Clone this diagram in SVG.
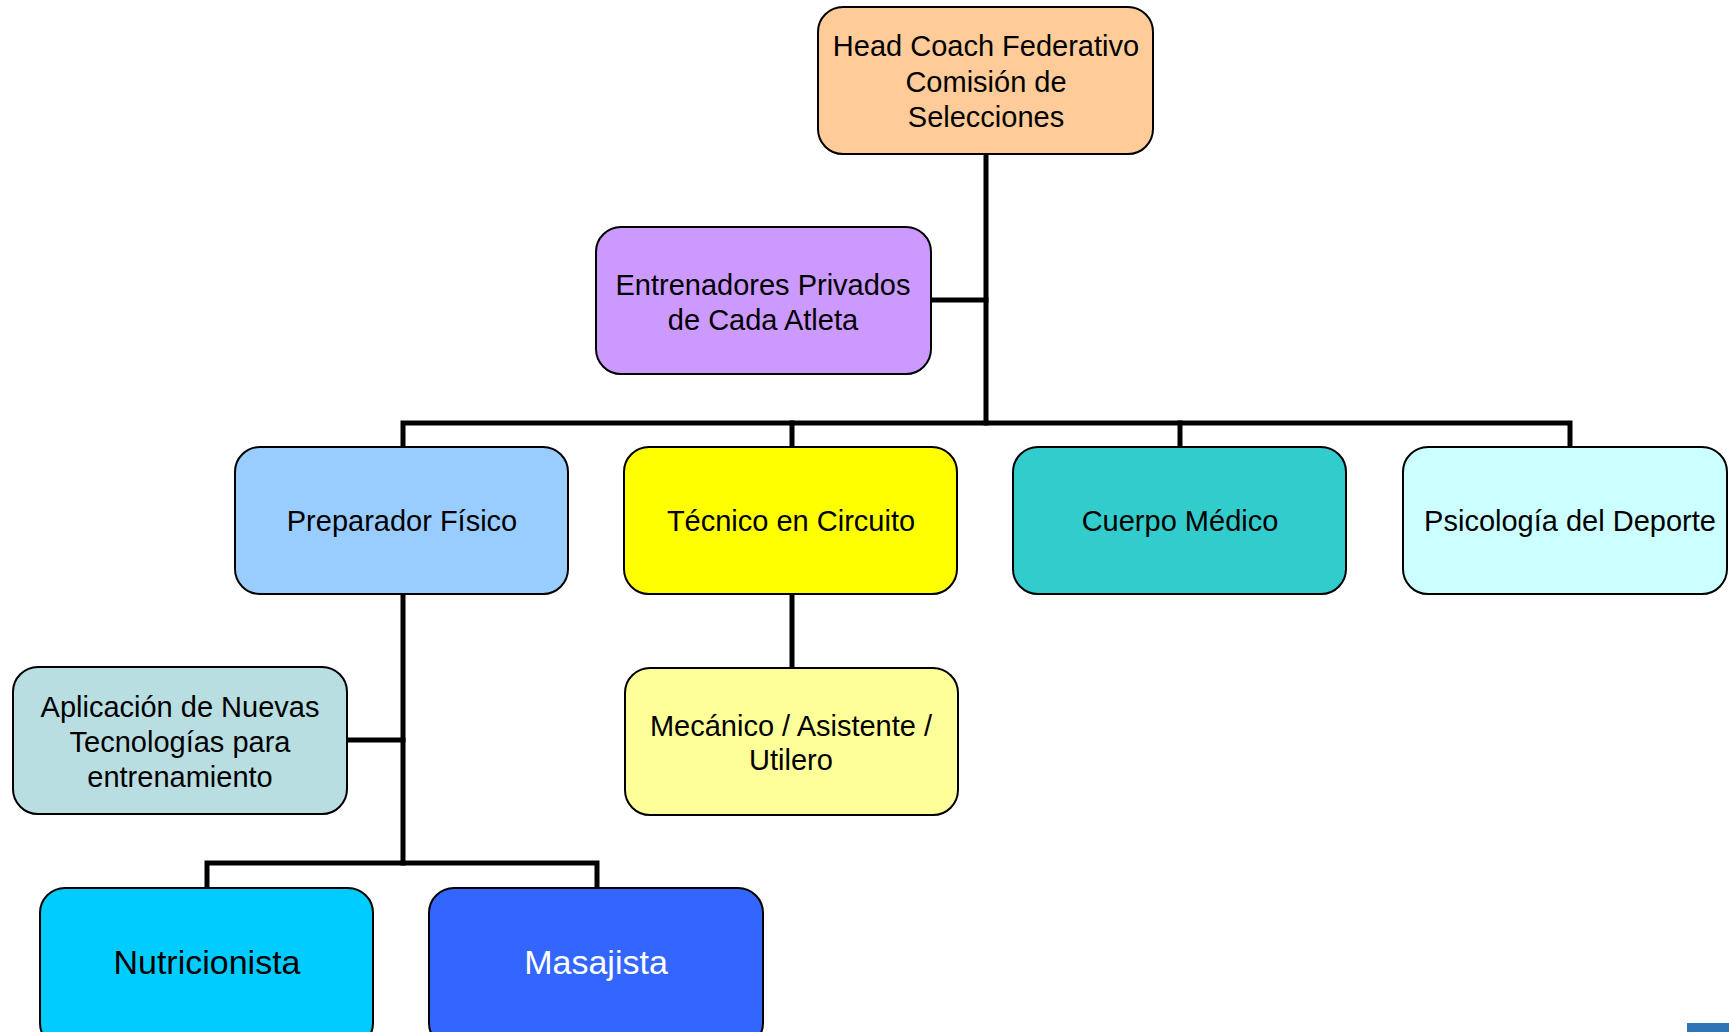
<svg xmlns="http://www.w3.org/2000/svg" width="1729" height="1032" viewBox="0 0 1729 1032">
<style>
.box{stroke:#000;stroke-width:2}
.t{font-family:"Liberation Sans",Arial,sans-serif;font-size:29px;fill:#000;text-anchor:middle}
.big{font-size:34px}
.conn{fill:none;stroke:#000;stroke-width:5;stroke-linecap:square}
</style>
<rect width="1729" height="1032" fill="#fff"/>
<g id="connectors">
<path class="conn" d="M986 154 V423"/>
<path class="conn" d="M931 300 H986"/>
<path class="conn" d="M403 447 V423 H1570 V447"/>
<path class="conn" d="M792 423 V447"/>
<path class="conn" d="M1180 423 V447"/>
<path class="conn" d="M792 594 V667"/>
<path class="conn" d="M403 594 V863"/>
<path class="conn" d="M347 740 H403"/>
<path class="conn" d="M207 888 V863 H597 V888"/>
</g>
<g id="head">
<rect class="box" x="818" y="7" width="335" height="147" rx="25" fill="#FFCC99"/>
<text class="t" x="986" y="56">Head Coach Federativo</text>
<text class="t" x="986" y="92">Comisión de</text>
<text class="t" x="986" y="127">Selecciones</text>
</g>
<g id="entrenadores">
<rect class="box" x="596" y="227" width="335" height="147" rx="25" fill="#CC99FF"/>
<text class="t" x="763" y="295">Entrenadores Privados</text>
<text class="t" x="763" y="330">de Cada Atleta</text>
</g>
<g id="preparador">
<rect class="box" x="235" y="447" width="333" height="147" rx="25" fill="#99CCFF"/>
<text class="t" x="402" y="531">Preparador Físico</text>
</g>
<g id="tecnico">
<rect class="box" x="624" y="447" width="333" height="147" rx="25" fill="#FFFF00"/>
<text class="t" x="791" y="531">Técnico en Circuito</text>
</g>
<g id="cuerpo">
<rect class="box" x="1013" y="447" width="333" height="147" rx="25" fill="#33CCCC"/>
<text class="t" x="1180" y="531">Cuerpo Médico</text>
</g>
<g id="psicologia">
<rect class="box" x="1403" y="447" width="324" height="147" rx="25" fill="#CCFFFF"/>
<text class="t" x="1570" y="531">Psicología del Deporte</text>
</g>
<g id="aplicacion">
<rect class="box" x="13" y="667" width="334" height="147" rx="25" fill="#B9DEE2"/>
<text class="t" x="180" y="717">Aplicación de Nuevas</text>
<text class="t" x="180" y="752">Tecnologías para</text>
<text class="t" x="180" y="787">entrenamiento</text>
</g>
<g id="mecanico">
<rect class="box" x="625" y="668" width="333" height="147" rx="25" fill="#FFFF99"/>
<text class="t" x="791" y="736">Mecánico / Asistente /</text>
<text class="t" x="791" y="770">Utilero</text>
</g>
<g id="nutricionista">
<rect class="box" x="40" y="888" width="333" height="160" rx="25" fill="#00CCFF"/>
<text class="t big" x="207" y="974">Nutricionista</text>
</g>
<g id="masajista">
<rect class="box" x="429" y="888" width="334" height="160" rx="25" fill="#3366FF"/>
<text class="t big" x="596" y="974" style="fill:#fff">Masajista</text>
</g>
<rect x="1687" y="1023" width="42" height="9" fill="#2E75B6"/>
</svg>
